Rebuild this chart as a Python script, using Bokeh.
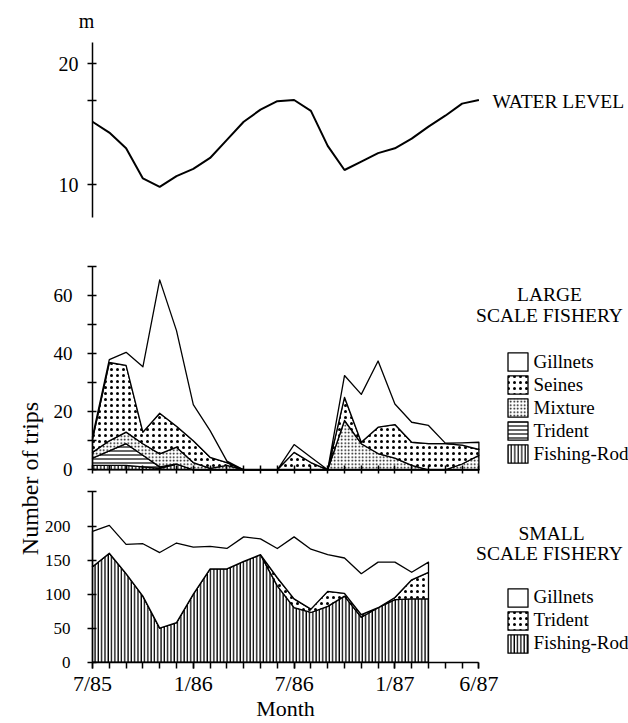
import numpy as np
from bokeh.plotting import figure
from bokeh.models import Range1d, LinearAxis, FixedTicker, Label, Legend, LegendItem
from bokeh.embed import file_html
from bokeh.resources import INLINE

# ---------------- data ----------------
months = list(range(24))                      # 0 = 7/85 ... 23 = 6/87
month_tick_labels = {0: "7/85", 6: "1/86", 12: "7/86", 18: "1/87", 23: "6/87"}

water_level = [15.2, 14.3, 13.0, 10.5, 9.8, 10.7, 11.3, 12.2, 13.7, 15.2, 16.2, 16.9,
               17.0, 16.1, 13.2, 11.2, 11.9, 12.6, 13.0, 13.8, 14.8, 15.7, 16.7, 17.0]

# large scale fishery, trips per month by gear (stacked bottom -> top: rod, trident, mixture, seines, gillnets)
large_fishing_rod = [1.5, 1.5, 1.5, 1.0, 0.5, 2.0, 0, 0, 0, 0, 0, 0,
                     0, 0, 0, 0, 0, 0, 0, 0, 0, 0, 0, 0]
large_trident = [2.5, 5.0, 7.5, 4.0, 0.5, 0, 0, 0, 0, 0, 0, 0,
                 0, 0, 0, 0, 0, 0, 0, 0, 0, 0, 0, 0]
large_mixture = [2.0, 3.5, 4.0, 4.0, 4.5, 5.8, 2.5, 0.5, 1.5, 0, 0, 0,
                 0, 0, 0, 17.0, 9.0, 5.6, 4.0, 1.5, 0, 0, 2.0, 5.0]
large_seines = [4.5, 27.0, 23.0, 4.0, 14.0, 7.2, 7.5, 3.8, 1.0, 0, 0, 0,
                6.0, 2.5, 0, 8.0, 0.5, 9.1, 11.6, 8.0, 9.0, 9.0, 6.5, 2.0]
large_gillnets = [1.0, 1.0, 4.5, 22.5, 46.0, 33.0, 12.5, 9.2, 0.5, 0, 0, 0,
                  2.7, 1.8, 0, 7.5, 16.5, 22.8, 7.1, 6.9, 6.3, 0.2, 0.8, 2.5]

# small scale fishery (7/85 .. 3/87)
small_months = list(range(21))
small_fishing_rod = [140, 160, 130, 97, 50, 58, 100, 137, 137, 148, 158, 112,
                     80, 73, 82, 97, 66, 80, 92, 93, 93]
small_trident = [0, 0, 0, 0, 0, 0, 0, 0, 0, 0, 0, 12,
                 13, 5, 22, 4, 4, 0, 3, 28, 39]
small_gillnets = [52, 41, 43, 77, 111, 117, 69, 33, 30, 36, 23, 43,
                  91, 88, 54, 52, 60, 67, 52, 11, 15]

# ---------------- layout helpers ----------------
W, H = 628, 723
X0_PX, MONTH_PX = 92, 16.8
FONT = "Liberation Serif"


def screen_range(v_a, py_a, v_b, py_b):
    k = (py_a - py_b) / (v_b - v_a)
    return Range1d(v_a - (H - py_a) / k, v_a + py_a / k)


p = figure(width=W, height=H,
           x_range=Range1d(-X0_PX / MONTH_PX, (W - X0_PX) / MONTH_PX),
           y_range=screen_range(0, 661.7, 200, 525.5),
           x_axis_location=None, y_axis_location=None,
           min_border=0, toolbar_location=None, output_backend="svg",
           outline_line_color=None, background_fill_color="white",
           border_fill_color="white")
p.extra_y_ranges = {"water": screen_range(10, 184.0, 20, 63.3),
                    "large": screen_range(0, 469.3, 60, 295.3)}
p.grid.visible = False


def style_axis(ax, size, standoff, t_in, t_out):
    ax.axis_line_color = "black"
    ax.axis_line_width = 1.5
    ax.major_tick_line_color = "black"
    ax.minor_tick_line_color = "black"
    ax.major_tick_line_width = 1.5
    ax.minor_tick_line_width = 1.5
    ax.major_tick_in = t_in
    ax.major_tick_out = t_out
    ax.minor_tick_in = t_in
    ax.minor_tick_out = t_out
    ax.major_label_text_font = FONT
    ax.major_label_text_font_size = size
    ax.major_label_text_color = "black"
    ax.major_label_standoff = standoff


# ---------------- water level ----------------
p.line(months, water_level, y_range_name="water", line_color="black", line_width=2)
ax_w = LinearAxis(y_range_name="water", fixed_location=0, bounds=(7.3, 21.8),
                  ticker=FixedTicker(ticks=[10, 20], minor_ticks=[17]))
style_axis(ax_w, "20px", 9, 4, 5)
p.add_layout(ax_w, "left")


# ---------------- stacked areas ----------------
def stacked(x, layers, range_name):
    cum = np.zeros(len(x))
    rends = {}
    for name, vals, hatch in layers:
        lower = cum.copy()
        cum = cum + np.asarray(vals, dtype=float)
        xs = list(x) + list(x)[::-1]
        ys = list(cum) + list(lower)[::-1]
        kw = dict(fill_color="white", line_color="black", line_width=1.3,
                  line_join="round")
        if hatch:
            kw.update(hatch_color="black", **hatch)
        if range_name:
            kw["y_range_name"] = range_name
        rends[name] = p.patch(xs, ys, **kw)
    return rends


dots = dict(hatch_pattern="dot", hatch_scale=6, hatch_weight=0.6)
large = stacked(months, [
    ("Fishing-Rod", large_fishing_rod, dict(hatch_pattern="vertical_line", hatch_scale=3.5, hatch_weight=1.2)),
    ("Trident", large_trident, dict(hatch_pattern="horizontal_line", hatch_scale=4, hatch_weight=1.2)),
    ("Mixture", large_mixture, dict(hatch_pattern="dot", hatch_scale=3.5, hatch_weight=1.4)),
    ("Seines", large_seines, dots),
    ("Gillnets", large_gillnets, None),
], "large")

small = stacked(small_months, [
    ("Fishing-Rod", small_fishing_rod, dict(hatch_pattern="vertical_line", hatch_scale=3.3, hatch_weight=1.3)),
    ("Trident", small_trident, dots),
    ("Gillnets", small_gillnets, None),
], None)

ax_l = LinearAxis(y_range_name="large", fixed_location=0, bounds=(0, 70),
                  ticker=FixedTicker(ticks=[0, 20, 40, 60], minor_ticks=[10, 30, 50, 70]))
style_axis(ax_l, "19px", 15, 4, 5)
p.add_layout(ax_l, "left")

ax_lx = LinearAxis(y_range_name="large", fixed_location=0, bounds=(0, 23),
                   ticker=FixedTicker(ticks=[], minor_ticks=months))
style_axis(ax_lx, "19px", 4, 4, 4)
p.add_layout(ax_lx, "below")

ax_s = LinearAxis(fixed_location=0, bounds=(0, 250),
                  ticker=FixedTicker(ticks=[0, 50, 100, 150, 200], minor_ticks=[250]))
style_axis(ax_s, "17px", 17, 4, 5)
p.add_layout(ax_s, "left")

ax_x = LinearAxis(fixed_location=0, bounds=(0, 23),
                  ticker=FixedTicker(ticks=list(month_tick_labels.keys()), minor_ticks=months),
                  major_label_overrides=month_tick_labels,
                  axis_label="Month")
style_axis(ax_x, "22px", 3, 0, 6)
ax_x.axis_label_text_font = FONT
ax_x.axis_label_text_font_size = "22px"
ax_x.axis_label_text_font_style = "normal"
ax_x.axis_label_text_color = "black"
ax_x.axis_label_standoff = -4
p.add_layout(ax_x, "below")


# ---------------- texts ----------------
def label(x, y_top, text, size="19.5px", align="left", angle=0.0, baseline="middle"):
    p.add_layout(Label(x=x, y=H - y_top, x_units="screen", y_units="screen", text=text,
                       text_font=FONT, text_font_size=size, text_color="black",
                       text_align=align, text_baseline=baseline, angle=angle))


label(86, 20, "m", size="20px", align="center")
label(492, 101, "WATER LEVEL")
label(549, 294, "LARGE", align="center")
label(549, 315, "SCALE FISHERY", align="center")
label(551, 533, "SMALL", align="center")
label(549, 553, "SCALE FISHERY", align="center")
label(29, 478, "Number of trips", size="24px", align="center", angle=np.pi / 2,
      baseline="alphabetic")


# ---------------- legends ----------------
def legend(rends, names, x, y_bottom):
    lg = Legend(items=[LegendItem(label=n, renderers=[rends[n]]) for n in names],
                location=(x, y_bottom), orientation="vertical",
                border_line_color=None, background_fill_alpha=0,
                padding=0, margin=0, spacing=0,
                glyph_width=25, glyph_height=23, label_height=23,
                label_standoff=4, label_text_font=FONT, label_text_font_size="19px",
                label_text_color="black", label_text_baseline="middle")
    p.add_layout(lg)


legend(large, ["Gillnets", "Seines", "Mixture", "Trident", "Fishing-Rod"], 504.5, H - 465.2)
legend(small, ["Gillnets", "Trident", "Fishing-Rod"], 504.5, H - 654.5)

open("out.html", "w").write(file_html(p, INLINE))
